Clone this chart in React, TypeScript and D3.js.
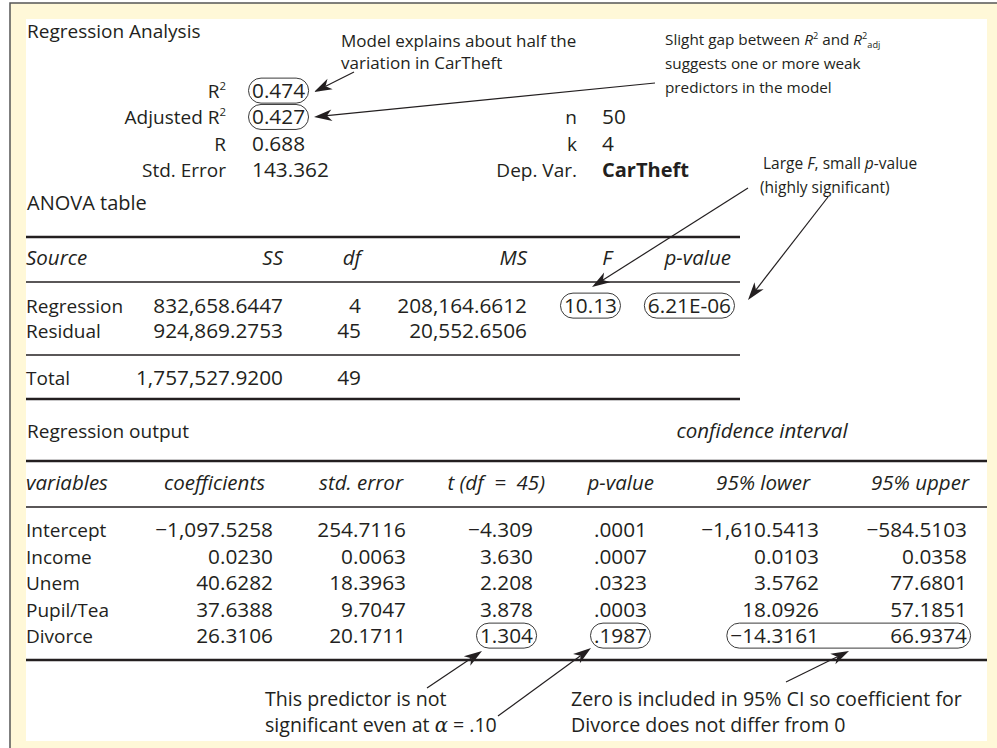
import { useLayoutEffect, useRef, useState } from "react";
import * as d3 from "d3";

// summary block
const statLabels = ["R^2", "Adjusted R^2", "R", "Std. Error"];
const statValues = [0.474, 0.427, 0.688, 143.362];
const infoLabels = ["n", "k", "Dep. Var."];
const infoValues = ["50", "4", "CarTheft"];

// ANOVA table
const anovaHeaders = ["Source", "SS", "df", "MS", "F", "p-value"];
const anovaSources = ["Regression", "Residual", "Total"];
const anovaSS = [832658.6447, 924869.2753, 1757527.92];
const anovaDf = [4, 45, 49];
const anovaMS = [208164.6612, 20552.6506];
const anovaF = [10.13];
const anovaP = ["6.21E-06"];

// regression output
const regHeaders = ["variables", "coefficients", "std. error", "t (df = 45)", "p-value", "95% lower", "95% upper"];
const regVariables = ["Intercept", "Income", "Unem", "Pupil/Tea", "Divorce"];
const regCoef = [-1097.5258, 0.023, 40.6282, 37.6388, 26.3106];
const regStdErr = [254.7116, 0.0063, 18.3963, 9.7047, 20.1711];
const regT = [-4.309, 3.63, 2.208, 3.878, 1.304];
const regP = [0.0001, 0.0007, 0.0323, 0.0003, 0.1987];
const regLower = [-1610.5413, 0.0103, 3.5762, 18.0926, -14.3161];
const regUpper = [-584.5103, 0.0358, 77.6801, 57.1851, 66.9374];

const FONT = "'Open Sans', 'Noto Sans', sans-serif";
const INK = "#231f20";
const FS = 19; // words
const FN = 20.8; // numbers
const FH = 20.5; // italic headers

type Run = { t: string; i?: boolean; sup?: boolean; sub?: boolean; serif?: boolean };

function Rich({ x, y, runs, size, anchor = "start" }: { x: number; y: number; runs: Run[]; size: number; anchor?: string }) {
  let off = 0;
  return (
    <text x={x} y={y} fontSize={size} textAnchor={anchor}>
      {runs.map((r, i) => {
        const target = r.sup ? -0.42 * size : r.sub ? 0.2 * size : 0;
        const dy = target - off;
        off = target;
        return (
          <tspan
            key={i}
            dy={dy || undefined}
            fontStyle={r.i ? "italic" : undefined}
            fontSize={r.sup || r.sub ? size * 0.6 : undefined}
            fontFamily={r.serif ? "'DejaVu Serif', serif" : undefined}
          >
            {r.t}
          </tspan>
        );
      })}
    </text>
  );
}

const sup = (s: string): Run[] => {
  const [a, b] = s.split("^");
  return b ? [{ t: a }, { t: b, sup: true }] : [{ t: a }];
};

function Arrow({ x1, y1, x2, y2 }: { x1: number; y1: number; x2: number; y2: number }) {
  const len = 18;
  const hw = 5.8;
  const a = Math.atan2(y2 - y1, x2 - x1);
  const ux = Math.cos(a);
  const uy = Math.sin(a);
  const bx = x2 - ux * len;
  const by = y2 - uy * len;
  const nx = x2 - ux * len * 0.72;
  const ny = y2 - uy * len * 0.72;
  const head = `M${x2},${y2}L${bx - uy * hw},${by + ux * hw}L${nx},${ny}L${bx + uy * hw},${by - ux * hw}Z`;
  return (
    <g>
      <line x1={x1} y1={y1} x2={nx} y2={ny} stroke={INK} strokeWidth={1.2} />
      <path d={head} fill={INK} />
    </g>
  );
}

export default function App() {
  const svgRef = useRef<SVGSVGElement>(null);
  const [pills, setPills] = useState<{ x: number; y: number; w: number; h: number }[]>([]);

  useLayoutEffect(() => {
    const svg = svgRef.current;
    if (!svg) return;
    const groups = d3.group(
      Array.from(svg.querySelectorAll<SVGTextElement>("text[data-pill]")),
      (el) => el.getAttribute("data-pill")
    );
    const out: { x: number; y: number; w: number; h: number }[] = [];
    groups.forEach((els) => {
      const boxes = els.map((el) => el.getBBox());
      const x0 = d3.min(boxes, (b) => b.x)!;
      const x1 = d3.max(boxes, (b) => b.x + b.width)!;
      const b = boxes[0];
      const cy = b.y + b.height / 2 + 0.03 * FN;
      out.push({ x: x0 - 3.5, y: cy - 12.5, w: x1 - x0 + 7, h: 25 });
    });
    setPills(out);
  }, []);

  const fmt4 = d3.format(",.4f");
  const fmt3 = d3.format(".3f");
  const fmtP = (v: number) => d3.format(".4f")(v).replace(/^0/, "");

  // summary rows
  const statY = d3.scaleLinear().domain([0, statLabels.length - 1]).range([98, 177]);

  // ANOVA layout
  const anovaX = d3
    .scaleOrdinal<string, number>()
    .domain(anovaHeaders)
    .range([26, 283, 361, 527, 617, 731]);
  const anovaHeadX = d3
    .scaleOrdinal<string, number>()
    .domain(anovaHeaders)
    .range([26, 283, 361, 527, 612, 731]);
  const anovaRowY = (i: number) => d3.scaleLinear().domain([0, 1]).range([313, 338])(i) + (i >= 2 ? 22 : 0);

  // regression layout
  const regX = d3
    .scaleOrdinal<string, number>()
    .domain(regHeaders)
    .range([26, 273, 406, 533, 647, 819, 967]);
  const regHeadX = d3
    .scaleOrdinal<string, number>()
    .domain(regHeaders)
    .range([26, 265, 403, 545, 654, 810, 969]);
  const regY = d3.scaleLinear().domain([0, regVariables.length - 1]).range([537, 643]);

  const regCols: [string, string[]][] = [
    [regHeaders[1], regCoef.map(fmt4)],
    [regHeaders[2], regStdErr.map(fmt4)],
    [regHeaders[3], regT.map(fmt3)],
    [regHeaders[4], regP.map(fmtP)],
    [regHeaders[5], regLower.map(fmt4)],
    [regHeaders[6], regUpper.map(fmt4)],
  ];
  const last = regVariables.length - 1;
  const pillFor = (col: number, row: number) => {
    if (row !== last) return undefined;
    if (col === 2) return "t";
    if (col === 3) return "p";
    if (col >= 4) return "ci";
    return undefined;
  };

  return (
    <svg
      ref={svgRef}
      width={997}
      height={748}
      style={{ position: "absolute", left: 0, top: 0, display: "block" }}
      fontFamily={FONT}
      fill={INK}
    >
      <rect x={10} y={3} width={1000} height={760} fill="#fff8d8" stroke="#555" strokeWidth={1.5} />
      <rect x={26} y={19} width={961} height={722} fill="#ffffff" />

      {/* summary */}
      <text x={27} y={38} fontSize={FS}>Regression Analysis</text>
      {statLabels.map((l, i) => (
        <Rich key={l} x={226} y={statY(i)} runs={sup(l)} size={FS} anchor="end" />
      ))}
      {statValues.map((v, i) => (
        <text key={i} x={252} y={statY(i)} fontSize={FN} data-pill={i < 2 ? `s${i}` : undefined}>
          {fmt3(v)}
        </text>
      ))}
      {infoLabels.map((l, i) => (
        <text key={l} x={577} y={statY(i + 1)} fontSize={FS} textAnchor="end">{l}</text>
      ))}
      {infoValues.map((v, i) => (
        <text key={v} x={602} y={statY(i + 1)} fontSize={i === 2 ? 20 : FN} fontWeight={i === 2 ? 700 : undefined}>{v}</text>
      ))}

      {/* ANOVA */}
      <text x={27} y={210} fontSize={20}>ANOVA table</text>
      <line x1={26} x2={740} y1={237} y2={237} stroke={INK} strokeWidth={2.6} />
      {anovaHeaders.map((h, i) => (
        <text key={h} x={anovaHeadX(h)} y={265} fontSize={FH} fontStyle="italic" textAnchor={i === 0 ? "start" : "end"}>{h}</text>
      ))}
      <line x1={26} x2={740} y1={282} y2={282} stroke={INK} strokeWidth={1.3} />
      {anovaSources.map((s, i) => (
        <text key={s} x={anovaX("Source")} y={anovaRowY(i)} fontSize={FS}>{s}</text>
      ))}
      {anovaSS.map((v, i) => (
        <text key={i} x={anovaX("SS")} y={anovaRowY(i)} fontSize={FN} textAnchor="end">{fmt4(v)}</text>
      ))}
      {anovaDf.map((v, i) => (
        <text key={i} x={anovaX("df")} y={anovaRowY(i)} fontSize={FN} textAnchor="end">{v}</text>
      ))}
      {anovaMS.map((v, i) => (
        <text key={i} x={anovaX("MS")} y={anovaRowY(i)} fontSize={FN} textAnchor="end">{fmt4(v)}</text>
      ))}
      {anovaF.map((v, i) => (
        <text key={i} x={anovaX("F")} y={anovaRowY(i)} fontSize={FN} textAnchor="end" data-pill="f">{d3.format(".2f")(v)}</text>
      ))}
      {anovaP.map((v, i) => (
        <text key={i} x={anovaX("p-value")} y={anovaRowY(i)} fontSize={FN} textAnchor="end" data-pill="ap">{v}</text>
      ))}
      <line x1={26} x2={740} y1={355} y2={355} stroke={INK} strokeWidth={1.3} />
      <line x1={26} x2={740} y1={399} y2={399} stroke={INK} strokeWidth={2.6} />

      {/* regression output */}
      <text x={27} y={438} fontSize={FS}>Regression output</text>
      <text x={762} y={438} fontSize={FH} fontStyle="italic" textAnchor="middle">confidence interval</text>
      <line x1={26} x2={987} y1={461} y2={461} stroke={INK} strokeWidth={2.6} />
      {regHeaders.map((h, i) => (
        <text key={h} x={regHeadX(h)} y={490} fontSize={FH} fontStyle="italic" textAnchor={i === 0 ? "start" : "end"} xmlSpace="preserve">
          {h.replace(" = ", "  =  ")}
        </text>
      ))}
      <line x1={26} x2={987} y1={507} y2={507} stroke={INK} strokeWidth={1.3} />
      {regVariables.map((v, i) => (
        <text key={v} x={regX("variables")} y={regY(i)} fontSize={FS}>{v}</text>
      ))}
      {regCols.map(([h, vals], c) =>
        vals.map((s, r) => (
          <text key={`${h}-${r}`} x={regX(h)} y={regY(r)} fontSize={FN} textAnchor="end" data-pill={pillFor(c, r)}>
            {s}
          </text>
        ))
      )}
      <line x1={26} x2={987} y1={660} y2={660} stroke={INK} strokeWidth={2.6} />

      {/* circled values */}
      {pills.map((p, i) => (
        <rect key={i} x={p.x} y={p.y} width={p.w} height={p.h} rx={p.h / 2} fill="none" stroke="#3a3a3a" strokeWidth={1} />
      ))}

      {/* annotations */}
      <g fontSize={17}>
        <text x={341} y={47}>Model explains about half the</text>
        <text x={341} y={69}>variation in CarTheft</text>
      </g>
      <g fontSize={15.3}>
        <Rich
          x={665}
          y={45}
          size={15.3}
          runs={[
            { t: "Slight gap between " },
            { t: "R", i: true },
            { t: "2", sup: true },
            { t: " and " },
            { t: "R", i: true },
            { t: "2", sup: true },
            { t: "adj", sub: true },
          ]}
        />
        <text x={665} y={69}>suggests one or more weak</text>
        <text x={665} y={93}>predictors in the model</text>
        <Rich
          x={763}
          y={169}
          size={15.5}
          runs={[{ t: "Large " }, { t: "F", i: true }, { t: ", small " }, { t: "p", i: true }, { t: "-value" }]}
        />
        <text x={760} y={193} fontSize={15.5}>(highly significant)</text>
      </g>
      <g fontSize={19.6}>
        <text x={265} y={706}>This predictor is not</text>
        <Rich
          x={265}
          y={732}
          size={19.6}
          runs={[{ t: "significant even at " }, { t: "α", i: true, serif: true }, { t: " = .10" }]}
        />
        <text x={571} y={706}>Zero is included in 95% CI so coefficient for</text>
        <text x={571} y={732}>Divorce does not differ from 0</text>
      </g>

      <Arrow x1={354} y1={72} x2={314} y2={92} />
      <Arrow x1={655} y1={83} x2={314} y2={117} />
      <Arrow x1={748} y1={188} x2={592} y2={287} />
      <Arrow x1={828} y1={197} x2={748} y2={300} />
      <Arrow x1={427} y1={688} x2={482} y2={651} />
      <Arrow x1={498} y1={716} x2={591} y2={648} />
      <Arrow x1={786} y1={682} x2={849} y2={651} />
    </svg>
  );
}
